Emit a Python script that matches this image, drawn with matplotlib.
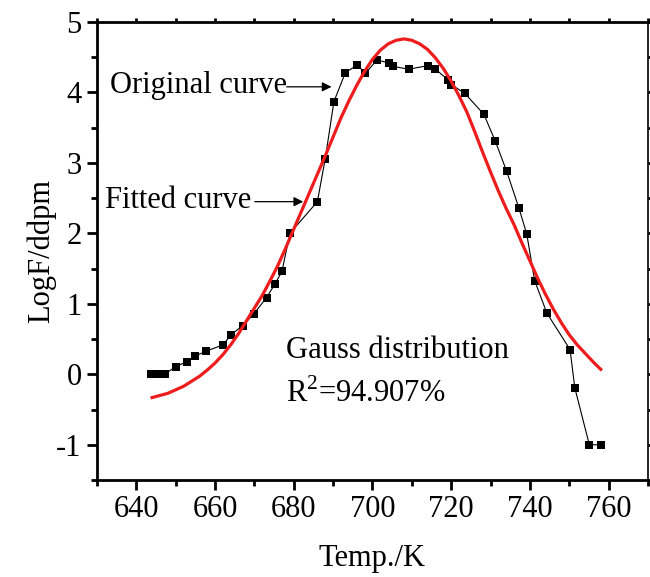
"""
Gauss fit of LogF/ddpm against temperature.
Original measured points (black squares) and the fitted curve (red).
"""

import matplotlib
matplotlib.use("Agg")
import matplotlib.pyplot as plt
from matplotlib.ticker import MultipleLocator

# ---------------------------------------------------------------------------
# Data
# ---------------------------------------------------------------------------
temp_orig = [643.6, 645.4, 647.2, 650.0, 652.9, 655.0, 657.8, 662.1, 664.0,
             667.0, 669.9, 673.1, 675.2, 677.0, 679.0, 686.0, 688.0, 690.2,
             693.1, 696.1, 698.2, 701.1, 704.2, 705.2, 709.2, 714.1, 716.0,
             719.2, 720.0, 723.4, 728.3, 731.2, 734.1, 737.2, 739.2, 741.2,
             744.3, 750.2, 751.4, 755.1, 758.1]
logf_orig = [0.00, 0.00, 0.00, 0.11, 0.18, 0.26, 0.33, 0.42, 0.56,
             0.69, 0.86, 1.09, 1.28, 1.46, 2.00, 2.45, 3.06, 3.87,
             4.28, 4.39, 4.27, 4.46, 4.42, 4.37, 4.33, 4.38, 4.33,
             4.18, 4.11, 3.99, 3.69, 3.31, 2.88, 2.36, 1.99, 1.33,
             0.87, 0.35, -0.19, -1.00, -1.00]

temp_fit = [644, 646, 648, 650, 652, 654, 656, 658, 660, 662, 664, 666,
            668, 670, 672, 674, 676, 678, 680, 682, 684, 686, 688, 690,
            692, 694, 696, 698, 700, 702, 704, 706, 708, 710, 712, 714,
            716, 718, 720, 722, 724, 726, 728, 730, 732, 734, 736, 738,
            740, 742, 744, 746, 748, 750, 752, 754, 756, 758]
logf_fit = [-0.33, -0.30, -0.27, -0.22, -0.17, -0.10, -0.03, 0.06, 0.16,
            0.28, 0.42, 0.58, 0.76, 0.94, 1.12, 1.33, 1.55, 1.80, 2.06,
            2.32, 2.58, 2.84, 3.10, 3.37, 3.64, 3.88, 4.10, 4.30, 4.47,
            4.60, 4.69, 4.74, 4.76, 4.74, 4.69, 4.61, 4.49, 4.34, 4.16,
            3.95, 3.72, 3.44, 3.15, 2.87, 2.60, 2.35, 2.12, 1.86, 1.61,
            1.36, 1.13, 0.92, 0.73, 0.56, 0.42, 0.30, 0.18, 0.07]

# ---------------------------------------------------------------------------
# Style
# ---------------------------------------------------------------------------
plt.rcParams["font.family"] = ["Liberation Serif", "DejaVu Serif"]
plt.rcParams["mathtext.fontset"] = "custom"
plt.rcParams["mathtext.rm"] = "Liberation Serif"
plt.rcParams["axes.unicode_minus"] = False
FS = 22

fig = plt.figure(figsize=(6.5, 5.77), dpi=100)
ax = fig.add_axes([0.1492, 0.1681, 0.8477, 0.7938])

ax.plot(temp_orig, logf_orig, color="black", lw=0.8, marker="s",
        markersize=5.5, markeredgewidth=0, zorder=3)
ax.plot(temp_fit, logf_fit, color="#ee1c1c", lw=2.3, zorder=4,
        solid_joinstyle="round")

ax.set_xlim(630, 770)
ax.set_ylim(-1.5, 5)
ax.xaxis.set_major_locator(MultipleLocator(20))
ax.xaxis.set_minor_locator(MultipleLocator(10))
ax.yaxis.set_major_locator(MultipleLocator(1))
ax.yaxis.set_minor_locator(MultipleLocator(0.5))

ax.tick_params(which="major", direction="out", length=7, width=2,
               labelsize=FS, pad=4)
ax.tick_params(which="minor", direction="out", length=4, width=2)
ax.tick_params(which="both", top=True, right=True)
for t in ax.xaxis.get_major_ticks() + ax.xaxis.get_minor_ticks():
    t.tick2line.set_markersize(3)
for t in ax.yaxis.get_major_ticks() + ax.yaxis.get_minor_ticks():
    t.tick2line.set_markersize(2)

for side in ["left", "bottom", "top"]:
    ax.spines[side].set_linewidth(2)
ax.spines["right"].set_linewidth(1.2)

ax.set_xlabel("Temp./K", fontsize=FS, labelpad=14)
ax.set_ylabel("LogF/ddpm", fontsize=FS, labelpad=0)

# ---------------------------------------------------------------------------
# Annotations
# ---------------------------------------------------------------------------
ax.text(633.3, 3.99, "Original curve", fontsize=FS, va="baseline")
ax.annotate("", xy=(689.6, 4.08), xytext=(678.2, 4.08),
            arrowprops=dict(arrowstyle="-|>", color="black", lw=0.9,
                            mutation_scale=14, shrinkA=0, shrinkB=0))
ax.text(632.0, 2.36, "Fitted curve", fontsize=FS, va="baseline")
ax.annotate("", xy=(682.4, 2.45), xytext=(670.1, 2.45),
            arrowprops=dict(arrowstyle="-|>", color="black", lw=0.9,
                            mutation_scale=14, shrinkA=0, shrinkB=0))
ax.text(678.1, 0.234, "Gauss distribution", fontsize=FS, va="baseline")
ax.text(678.1, -0.40, r"R$^\mathregular{2}$=94.907%", fontsize=FS,
        va="baseline")

fig.savefig("out.png", dpi=100)
plt.close(fig)
